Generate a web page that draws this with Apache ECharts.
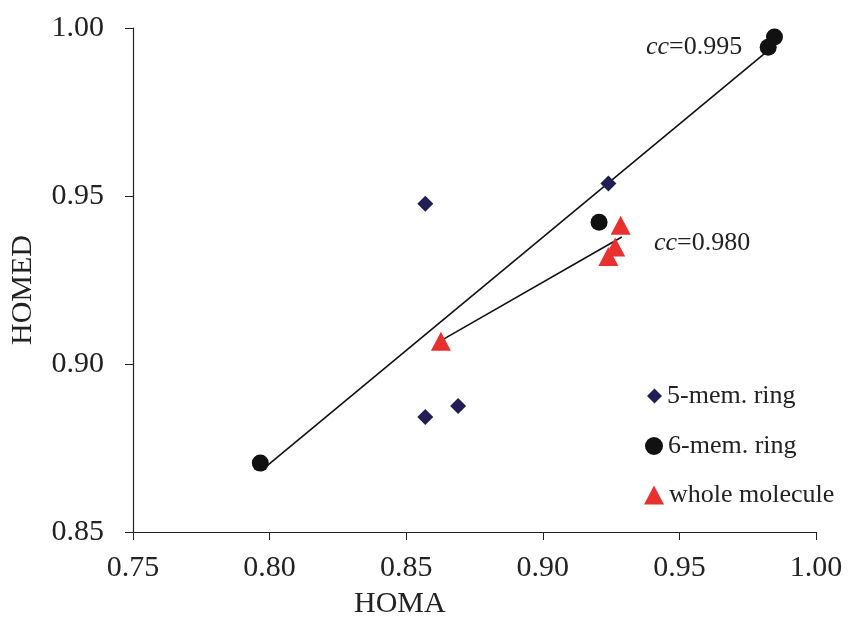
<!DOCTYPE html>
<html><head><meta charset="utf-8">
<script src="https://cdn.jsdelivr.net/npm/echarts@6/dist/echarts.min.js"></script>
<style>html,body{margin:0;padding:0;background:#fff}#c{width:851px;height:619px}</style>
</head><body><div id="c"></div>
<script>
const ring5 = [[0.857,0.9477],[0.924,0.9537],[0.857,0.8842],[0.869,0.8875]];
const ring6 = [[0.7966,0.8705],[0.9206,0.9422],[0.9825,0.9943],[0.9848,0.9973]];
const whole = [[0.8627,0.9068],[0.9285,0.9413],[0.9265,0.9348],[0.924,0.932]];
const fit6 = [[0.7968,0.8682],[0.9820,0.9930]];
const fitWhole = [[0.8624,0.9068],[0.9289,0.9378]];
const xTicks = [0.75,0.80,0.85,0.90,0.95,1.00];
const yTicks = [0.85,0.90,0.95,1.00];
const names = ['5-mem. ring','6-mem. ring','whole molecule'];
const ccLabels = ['0.995','0.980'];

const FONT = '"Liberation Serif","Times New Roman",serif';
const chart = echarts.init(document.getElementById('c'));
const legendBase = {orient:'vertical', textStyle:{fontFamily:FONT,fontSize:26,color:'#222'}, itemGap:4};
chart.setOption({
  animation:false,
  grid:{left:133,right:35,top:28,bottom:87},
  xAxis:{type:'value',min:xTicks[0],max:xTicks[xTicks.length-1],interval:0.05,
    axisLine:{lineStyle:{color:'#222',width:1.2}},
    axisTick:{show:true,length:8,lineStyle:{color:'#222'}},
    splitLine:{show:false},
    axisLabel:{margin:21,fontFamily:FONT,fontSize:30,color:'#222',formatter:v=>v.toFixed(2)}},
  yAxis:{type:'value',min:yTicks[0],max:yTicks[yTicks.length-1],interval:0.05,
    axisLine:{show:true,lineStyle:{color:'#222',width:1.2}},
    axisTick:{show:true,length:8,lineStyle:{color:'#222'}},
    splitLine:{show:false},
    axisLabel:{margin:29,fontFamily:FONT,fontSize:30,color:'#222',formatter:v=>v.toFixed(2)}},
  legend:[
    Object.assign({},legendBase,{left:642,top:378,itemWidth:15,itemHeight:15,data:[{name:names[0],icon:'diamond'}]}),
    Object.assign({},legendBase,{left:640,top:428,itemWidth:18,itemHeight:18,data:[{name:names[1],icon:'circle'}]}),
    Object.assign({},legendBase,{left:639,top:477,itemWidth:20,itemHeight:19,data:[{name:names[2],icon:'triangle'}]})
  ],
  series:[
    {type:'line',data:fit6,symbol:'none',lineStyle:{color:'#111',width:1.6},z:1,silent:true},
    {type:'line',data:fitWhole,symbol:'none',lineStyle:{color:'#111',width:1.6},z:1,silent:true},
    {name:names[0],type:'scatter',data:ring5,symbol:'diamond',symbolSize:16,itemStyle:{color:'#221d55',opacity:1},z:3},
    {name:names[1],type:'scatter',data:ring6,symbol:'circle',symbolSize:17,itemStyle:{color:'#111111',opacity:1},z:3},
    {name:names[2],type:'scatter',data:whole,symbol:'triangle',symbolSize:[20,19],itemStyle:{color:'#e8302e',opacity:1},z:2}
  ],
  graphic:[
    {type:'text',left:354,top:589,style:{text:'HOMA',font:'30px '+FONT,fill:'#222'}},
    {type:'text',left:8,top:235,rotation:Math.PI/2,style:{text:'HOMED',font:'30px '+FONT,fill:'#222'}},
    {type:'text',left:646,top:34,style:{text:'{i|cc}{n|='+ccLabels[0]+'}',rich:{i:{fontFamily:FONT,fontStyle:'italic',fontSize:26,fill:'#222'},n:{fontFamily:FONT,fontSize:26,fill:'#222'}}}},
    {type:'text',left:654,top:230,style:{text:'{i|cc}{n|='+ccLabels[1]+'}',rich:{i:{fontFamily:FONT,fontStyle:'italic',fontSize:26,fill:'#222'},n:{fontFamily:FONT,fontSize:26,fill:'#222'}}}}
  ]
});
</script></body></html>
